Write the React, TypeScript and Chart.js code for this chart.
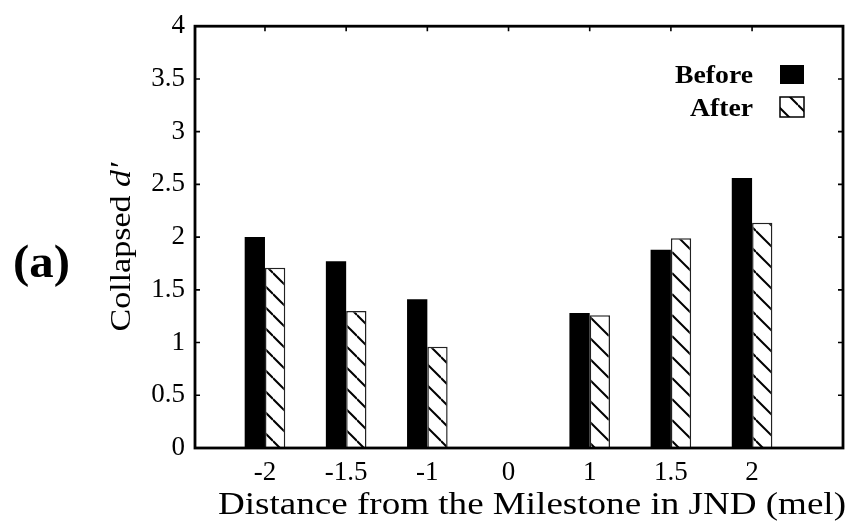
import React, { useEffect, useRef } from 'react';
import { Chart, registerables } from 'chart.js';

Chart.register(...registerables);

const categories = ['-2', '-1.5', '-1', '0', '1', '1.5', '2'];
const beforeValues: (number | null)[] = [2.0, 1.77, 1.41, null, 1.28, 1.88, 2.56];
const afterValues: (number | null)[] = [1.71, 1.3, 0.96, null, 1.26, 1.99, 2.135];
const yTickValues = [0, 0.5, 1, 1.5, 2, 2.5, 3, 3.5, 4];
const seriesNames = ['Before', 'After'];
const xTitle = 'Distance from the Milestone in JND (mel)';
const yTitleMain = 'Collapsed ';
const yTitleSymbol = 'd\u2032';
const panelLabel = '(a)';

const SERIF = '"Liberation Serif", "Times New Roman", Times, serif';

function makeHatch(): CanvasPattern | string {
  const s = 21;
  const c = document.createElement('canvas');
  c.width = s;
  c.height = s;
  const g = c.getContext('2d');
  if (!g) return '#fff';
  g.fillStyle = '#fff';
  g.fillRect(0, 0, s, s);
  g.strokeStyle = '#000';
  g.lineWidth = 2;
  for (let k = -1; k <= 1; k++) {
    g.beginPath();
    g.moveTo(0, k * s);
    g.lineTo(s, s + k * s);
    g.stroke();
  }
  const p = g.createPattern(c, 'repeat');
  return p || '#fff';
}

type Part = { text: string; font: string };

function drawParts(
  ctx: CanvasRenderingContext2D,
  parts: Part[],
  x: number,
  y: number,
  align: 'left' | 'center' | 'right',
  targetWidth: number | null,
  rotate = 0
) {
  ctx.save();
  ctx.textBaseline = 'alphabetic';
  ctx.textAlign = 'left';
  const widths = parts.map((p) => {
    ctx.font = p.font;
    return ctx.measureText(p.text).width;
  });
  const total = widths.reduce((a, b) => a + b, 0);
  const sx = targetWidth ? targetWidth / total : 1;
  ctx.translate(x, y);
  if (rotate) ctx.rotate(rotate);
  ctx.scale(sx, 1);
  let start = align === 'right' ? -total : align === 'center' ? -total / 2 : 0;
  ctx.fillStyle = '#000';
  parts.forEach((p, i) => {
    ctx.font = p.font;
    ctx.fillText(p.text, start, 0);
    start += widths[i];
  });
  ctx.restore();
}

export default function App() {
  const canvasRef = useRef<HTMLCanvasElement | null>(null);

  useEffect(() => {
    const canvas = canvasRef.current;
    if (!canvas) return;
    const hatch = makeHatch();

    const toPoints = (vals: (number | null)[]) =>
      vals
        .map((v, i) => ({ x: i, y: v }))
        .filter((p) => p.y !== null) as { x: number; y: number }[];

    const framePlugin = {
      id: 'frameAndTicks',
      afterDatasetsDraw(chart: any) {
        const { ctx, chartArea } = chart;
        const xs = chart.scales.x;
        const ys = chart.scales.y;
        ctx.save();
        ctx.strokeStyle = '#000';
        ctx.lineWidth = 1.6;
        const t = 5;
        ctx.beginPath();
        yTickValues.forEach((v) => {
          const py = ys.getPixelForValue(v);
          ctx.moveTo(chartArea.left, py);
          ctx.lineTo(chartArea.left + t, py);
          ctx.moveTo(chartArea.right, py);
          ctx.lineTo(chartArea.right - t, py);
        });
        categories.forEach((_, i) => {
          const px = xs.getPixelForValue(i);
          ctx.moveTo(px, chartArea.top);
          ctx.lineTo(px, chartArea.top + t);
        });
        ctx.stroke();
        ctx.lineWidth = 2.8;
        ctx.strokeRect(
          chartArea.left,
          chartArea.top,
          chartArea.right - chartArea.left,
          chartArea.bottom - chartArea.top
        );
        ctx.restore();
      },
      afterDraw(chart: any) {
        const { ctx } = chart;
        // x title
        drawParts(ctx, [{ text: xTitle, font: `32px ${SERIF}` }], 532, 514, 'center', 628);
        // y title (rotated)
        drawParts(
          ctx,
          [
            { text: yTitleMain, font: `30px ${SERIF}` },
            { text: yTitleSymbol, font: `italic 30px ${SERIF}` },
          ],
          130,
          247,
          'center',
          169,
          -Math.PI / 2
        );
        // panel label
        drawParts(ctx, [{ text: panelLabel, font: `bold 46px ${SERIF}` }], 13, 277, 'left', 57);
        // legend
        const ds = chart.data.datasets;
        const legendRows = [
          { baseline: 83, boxY: 65, boxH: 19 },
          { baseline: 116, boxY: 97, boxH: 20 },
        ];
        ds.forEach((d: any, i: number) => {
          const r = legendRows[i];
          const w = i === 0 ? 78 : 63;
          drawParts(ctx, [{ text: seriesNames[i], font: `bold 25px ${SERIF}` }], 753, r.baseline, 'right', w);
          ctx.save();
          ctx.fillStyle = d.backgroundColor;
          ctx.fillRect(780, r.boxY, 24, r.boxH);
          if (d.borderWidth) {
            ctx.strokeStyle = '#000';
            ctx.lineWidth = 1.5;
            ctx.strokeRect(780, r.boxY, 24, r.boxH);
          }
          ctx.restore();
        });
      },
    };

    const chart = new Chart(canvas, {
      type: 'bar',
      data: {
        datasets: [
          {
            label: seriesNames[0],
            data: toPoints(beforeValues),
            backgroundColor: '#000',
            borderWidth: 0,
          },
          {
            label: seriesNames[1],
            data: toPoints(afterValues),
            backgroundColor: hatch as any,
            borderColor: '#222',
            borderWidth: 1.5,
          },
        ],
      },
      options: {
        responsive: false,
        animation: false,
        events: [],
        layout: { padding: { top: 26, right: 10, left: 0, bottom: 0 } },
        datasets: { bar: { categoryPercentage: 0.5, barPercentage: 1 } } as any,
        plugins: {
          legend: { display: false },
          tooltip: { enabled: false },
          title: { display: false },
        },
        scales: {
          x: {
            type: 'linear',
            min: -0.862,
            max: 7.12,
            offset: false,
            grid: { display: false, drawTicks: false },
            border: { display: false },
            afterBuildTicks: (s: any) => {
              s.ticks = categories.map((_, i) => ({ value: i }));
            },
            ticks: {
              autoSkip: false,
              maxRotation: 0,
              padding: 9,
              color: '#000',
              font: { family: SERIF, size: 27 },
              callback: (v: any) => categories[Number(v)] ?? '',
            },
            afterFit: (s: any) => {
              s.height = 81;
            },
          },
          y: {
            min: 0,
            max: 4,
            grid: { display: false, drawTicks: false },
            border: { display: false },
            afterBuildTicks: (s: any) => {
              s.ticks = yTickValues.map((v) => ({ value: v }));
            },
            ticks: {
              padding: 10,
              color: '#000',
              font: { family: SERIF, size: 27 },
              callback: (v: any) => String(v),
            },
            afterFit: (s: any) => {
              s.width = 195;
            },
          },
        } as any,
      },
      plugins: [framePlugin],
    });

    return () => chart.destroy();
  }, []);

  return (
    <div style={{ position: 'absolute', left: 0, top: 0, width: 853, height: 529, background: '#fff' }}>
      <canvas ref={canvasRef} width={853} height={529} style={{ display: 'block' }} />
    </div>
  );
}
